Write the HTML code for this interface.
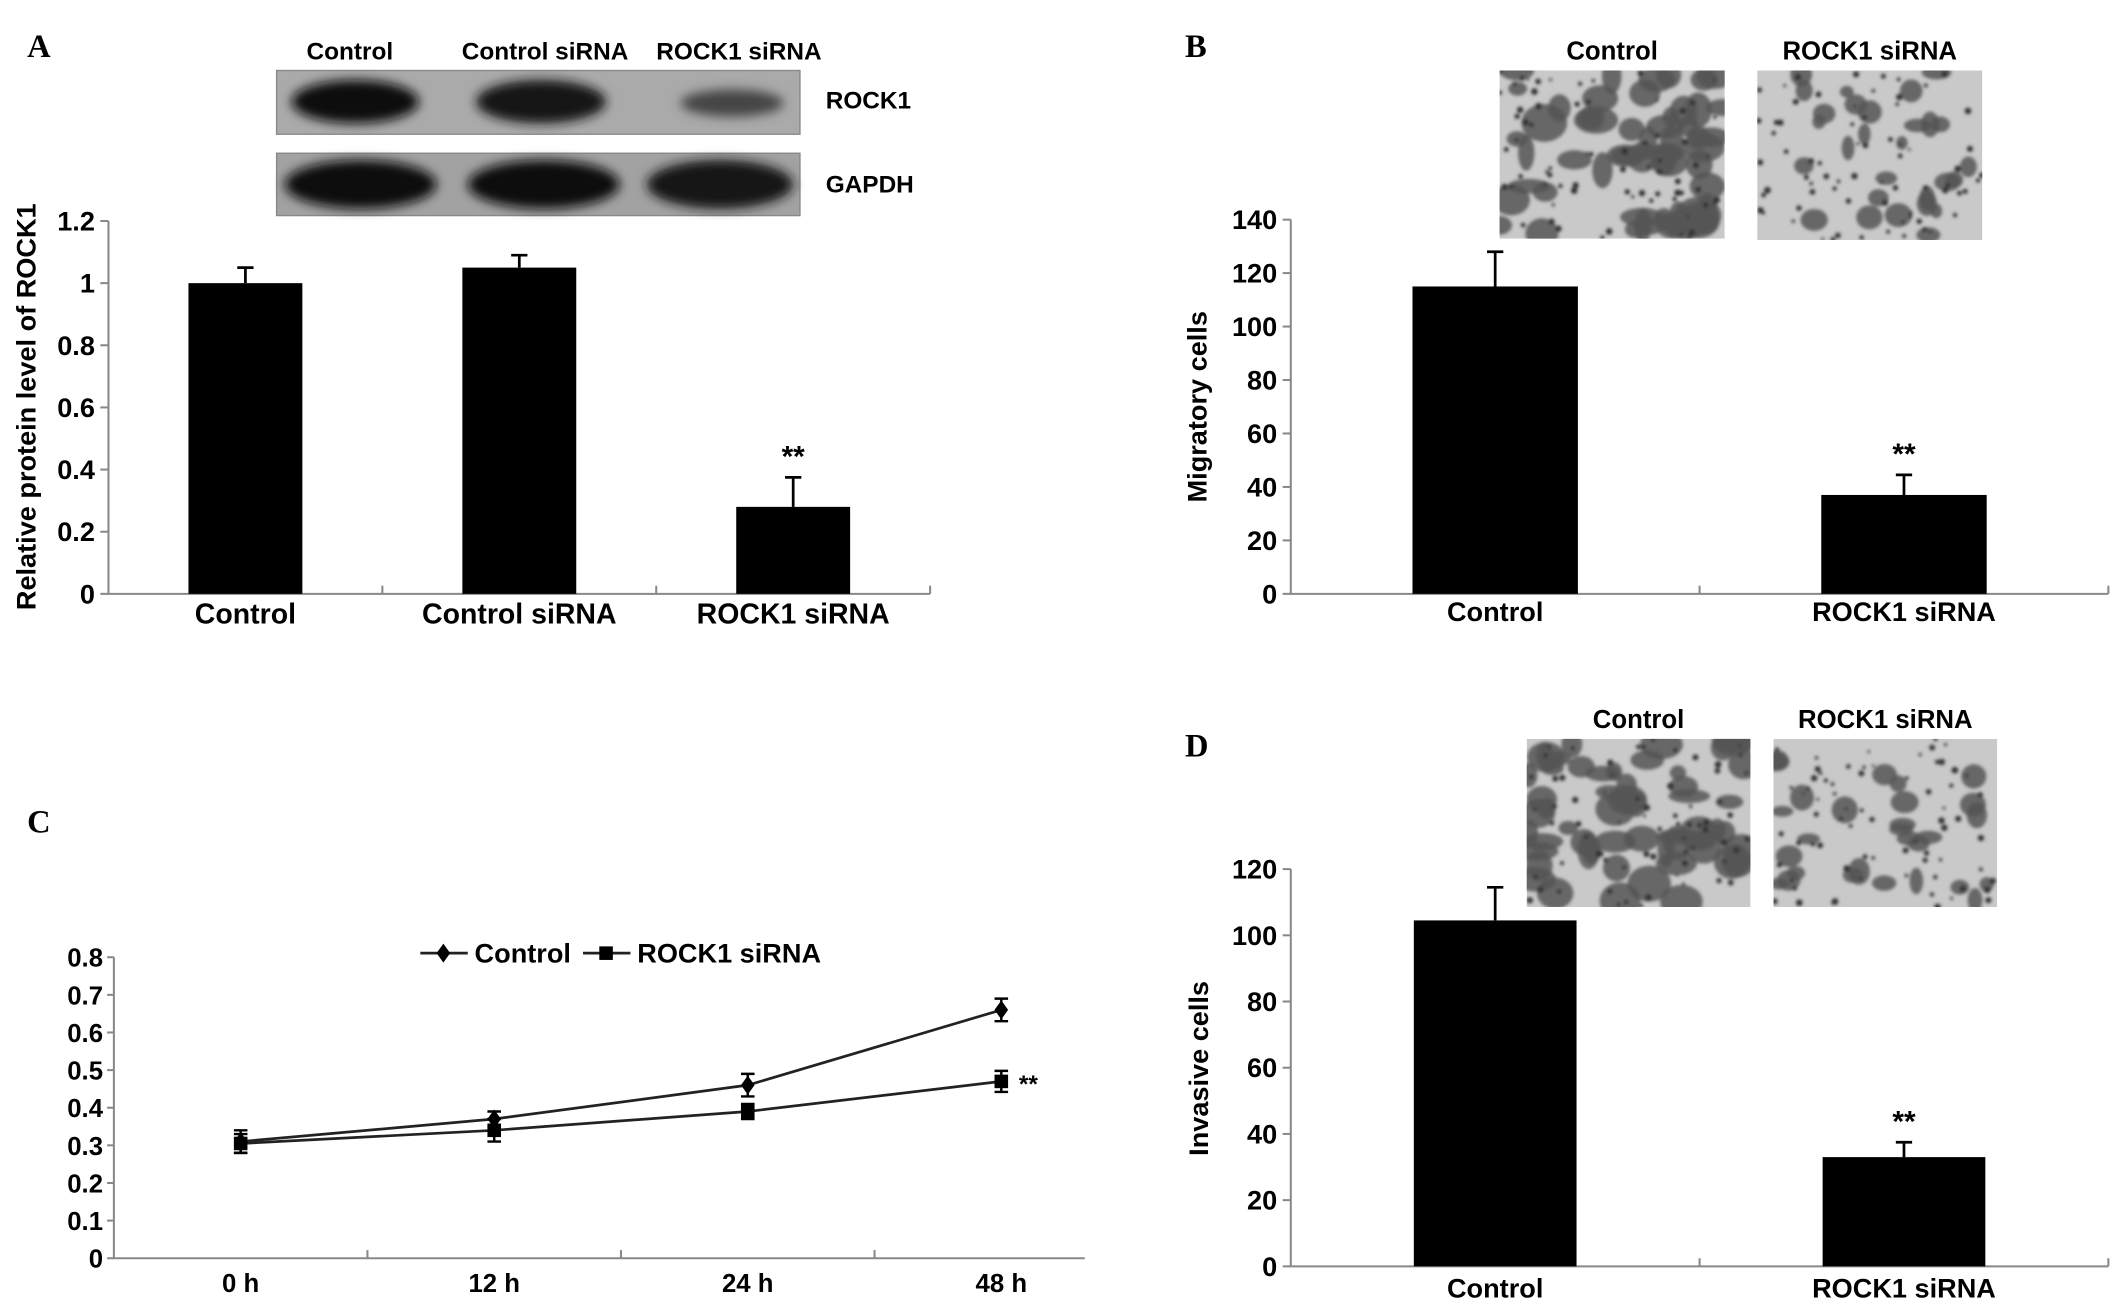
<!DOCTYPE html>
<html><head><meta charset="utf-8">
<style>
html,body{margin:0;padding:0;background:#fff;}
svg{display:block;}
text{font-family:"Liberation Sans",sans-serif;font-weight:bold;fill:#000;}
.n{font-family:"Liberation Sans Narrow","Liberation Sans",sans-serif;}
.lab{font-family:"Liberation Serif",serif;font-size:24px;}
</style></head>
<body>
<svg id="fig" width="2126" height="1313" viewBox="0 0 1568 968.4" preserveAspectRatio="none" xmlns="http://www.w3.org/2000/svg">
<defs>
<filter id="blur" x="-20%" y="-50%" width="140%" height="200%"><feGaussianBlur stdDeviation="4"/></filter>
<filter id="blur2"><feGaussianBlur stdDeviation="1.2"/></filter>
</defs>
<g id="root"></g>
</svg>
<script>
// ---- Panel A data ----
const aCats = ["Control","Control siRNA","ROCK1 siRNA"];
const aVals = [1.0, 1.05, 0.28];
const aErr = [0.05, 0.04, 0.095];
const aTicks = ["0","0.2","0.4","0.6","0.8","1","1.2"];
// ---- Panel B data ----
const bCats = ["Control","ROCK1 siRNA"];
const bVals = [115, 37];
const bErr = [13, 7.5];
const bTicks = ["0","20","40","60","80","100","120","140"];
// ---- Panel C data ----
const cCats = ["0 h","12 h","24 h","48 h"];
const cControl = [0.31, 0.37, 0.46, 0.66];
const cControlErr = [0.03, 0.02, 0.03, 0.03];
const cSi = [0.305, 0.34, 0.39, 0.47];
const cSiErr = [0.025, 0.03, 0.02, 0.028];
const cTicks = ["0","0.1","0.2","0.3","0.4","0.5","0.6","0.7","0.8"];
// ---- Panel D data ----
const dCats = ["Control","ROCK1 siRNA"];
const dVals = [104.5, 33];
const dErr = [10, 4.5];
const dTicks = ["0","20","40","60","80","100","120"];

const NS="http://www.w3.org/2000/svg";
const root=document.getElementById('root');
function el(tag,attrs,parent){const e=document.createElementNS(NS,tag);for(const k in attrs)e.setAttribute(k,attrs[k]);(parent||root).appendChild(e);return e;}
function txt(s,x,y,size,anchor,cls,parent){const t=el('text',{x:x,y:y,'font-size':size,'text-anchor':anchor||'middle'},parent);if(cls)t.setAttribute('class',cls);t.textContent=s;return t;}

function barPanel(o){
  const g=el('g',{});
  
  
  const ymax=Number(o.ticks[o.ticks.length-1]);
  const y=v=>o.y0-(v/ymax)*(o.y0-o.y1);
  const bw=(o.x1-o.x0)/o.cats.length;
  const xc=i=>o.x0+bw*(i+0.5);
  const ax=el('path',{d:`M${o.x0},${o.y1} V${o.y0} H${o.x1}`,stroke:'#888',fill:'none','stroke-width':1.5},g);
  
  
  o.ticks.forEach((t,i)=>{
    const v=Number(t);const yy=y(v);
    el('line',{x1:o.x0-6,x2:o.x0,y1:yy,y2:yy,stroke:'#888','stroke-width':1.5},g);
    const tl=txt(t,o.x0-10,yy+7,o.tickSize,'end',o.cls,g);
    
    
  });
  for(let i=1;i<=o.cats.length;i++){const xx=o.x0+bw*i;el('line',{x1:xx,x2:xx,y1:o.y0,y2:o.y0-6,stroke:'#888','stroke-width':1.5},g);}
  o.cats.forEach((c,i)=>{
    const w=o.barW;
    const r=el('rect',{x:xc(i)-w/2,y:y(o.vals[i]),width:w,height:o.y0-y(o.vals[i]),fill:'#000'},g);
    
    
    const ye=y(o.vals[i]+o.err[i]);
    const eb=el('path',{d:`M${xc(i)},${y(o.vals[i])} V${ye} M${xc(i)-6},${ye} H${xc(i)+6}`,stroke:'#000','stroke-width':2,fill:'none'},g);
    
    
    const xl=txt(c,xc(i),o.y0+o.labOff,o.catSize,'middle',o.cls,g);
    
    
    if(o.star[i]){const s=txt('**',xc(i),ye-8,22,'middle','',g);}
  });
  const yt=txt(o.ytitle,0,0,20,'middle','',g);
  yt.setAttribute('transform',`translate(${o.tx},${o.ty}) rotate(-90)`);
  
  
}

barPanel({name:'panel-a-chart',cats:aCats,vals:aVals,err:aErr,ticks:aTicks,x0:80,x1:686,y0:438,y1:163,barW:84,tickSize:20,catSize:21,labOff:22,cls:'n',star:[0,0,1],ytitle:'Relative protein level of ROCK1',tx:26,ty:300});
barPanel({name:'panel-b-chart',cats:bCats,vals:bVals,err:bErr,ticks:bTicks,x0:952,x1:1555,y0:438,y1:162,barW:122,tickSize:20,catSize:20,labOff:20,cls:'',star:[0,1],ytitle:'Migratory cells',tx:890,ty:300});
barPanel({name:'panel-d-chart',cats:dCats,vals:dVals,err:dErr,ticks:dTicks,x0:952,x1:1555,y0:934,y1:641,barW:120,tickSize:20,catSize:20,labOff:23,cls:'',star:[0,1],ytitle:'Invasive cells',tx:891,ty:788});

// Panel C line chart
(function(){
  const g=el('g',{});
  
  
  const x0=84,x1=800,y0=928,y1=706;
  const ymax=0.8;
  const y=v=>y0-(v/ymax)*(y0-y1);
  const step=187;
  const xc=i=>x0+step*(i+0.5);
  const ax=el('path',{d:`M${x0},${y1} V${y0} H${x1}`,stroke:'#888',fill:'none','stroke-width':1.5},g);
  
  
  cTicks.forEach(t=>{const yy=y(Number(t));el('line',{x1:x0-5,x2:x0,y1:yy,y2:yy,stroke:'#888','stroke-width':1.5},g);
    const tl=txt(t,x0-8,yy+7,19,'end','n',g);});
  for(let i=1;i<cCats.length;i++){const xx=x0+step*i;el('line',{x1:xx,x2:xx,y1:y0,y2:y0-6,stroke:'#888','stroke-width':1.5},g);}
  cCats.forEach((c,i)=>{const t=txt(c,xc(i),y0+25,19,'middle','n',g);});
  function series(vals,errs,marker,name){
    const sg=el('g',{},g);
    
    
    el('polyline',{points:vals.map((v,i)=>xc(i)+','+y(v)).join(' '),fill:'none',stroke:'#222','stroke-width':2},sg);
    vals.forEach((v,i)=>{
      const yt=y(v+errs[i]),yb=y(v-errs[i]),x=xc(i);
      el('path',{d:`M${x},${yt}V${yb}M${x-5},${yt}H${x+5}M${x-5},${yb}H${x+5}`,stroke:'#000','stroke-width':1.8,fill:'none'},sg);
      if(marker==='d')el('path',{d:`M${x},${y(v)-7}L${x+5},${y(v)}L${x},${y(v)+7}L${x-5},${y(v)}Z`,fill:'#000'},sg);
      else el('rect',{x:x-5,y:y(v)-5,width:10,height:10,fill:'#000'},sg);
    });
  }
  series(cControl,cControlErr,'d','series-control');
  series(cSi,cSiErr,'s','series-rock1-sirna');
  const st=txt('**',xc(3)+20,y(cSi[3])+8,18,'middle','',g);
  const lg=el('g',{},g);
  
  
  el('line',{x1:310,x2:345,y1:703,y2:703,stroke:'#222','stroke-width':2},lg);
  el('path',{d:'M327,696L332,703L327,710L322,703Z',fill:'#000'},lg);
  txt('Control',350,710,20,'start','',lg);
  el('line',{x1:430,x2:465,y1:703,y2:703,stroke:'#222','stroke-width':2},lg);
  el('rect',{x:442,y:698,width:10,height:10,fill:'#000'},lg);
  txt('ROCK1 siRNA',470,710,20,'start','',lg);
})();

// panel letters
[['A',20,42],['B',874,42],['C',20,614],['D',874,558]].forEach(([l,x,y])=>{const t=txt(l,x,y,24,'start','lab');});

// western blot
(function(){
  const g=el('g',{});
  
  
  [['Control',258],['Control siRNA',402],['ROCK1 siRNA',545]].forEach(([s,x])=>{const t=txt(s,x,44,18,'middle','n',g);});
  el('rect',{x:204,y:52,width:386,height:47,fill:'#aaa',stroke:'#888'},g);
  el('rect',{x:204,y:113,width:386,height:46,fill:'#a2a2a2',stroke:'#888'},g);
  const r1=[[262,75,47,16,'#111'],[399,75,48,16,'#151515'],[540,76,38,10,'#444']];
  r1.forEach(b=>el('ellipse',{cx:b[0],cy:b[1],rx:b[2],ry:b[3],fill:b[4],filter:'url(#blur)'},g));
  const r2=[[266,136,56,18,'#111'],[401,136,56,18,'#111'],[531,136,54,18,'#161616']];
  r2.forEach(b=>el('ellipse',{cx:b[0],cy:b[1],rx:b[2],ry:b[3],fill:b[4],filter:'url(#blur)'},g));
  const t1=txt('ROCK1',609,80,18,'start','n',g);
  const t2=txt('GAPDH',609,142,18,'start','n',g);
})();

// micrographs
let seed=7;function rnd(){seed=(seed*16807)%2147483647;return seed/2147483647;}
let clipN=0;
function micro(x,y,w,h,dense,name,label){
  const id='clip'+(clipN++);
  const cp=el('clipPath',{id:id});
  el('rect',{x:x,y:y,width:w,height:h},cp);
  const g=el('g',{'clip-path':'url(#'+id+')'});
  
  
  el('rect',{x:x,y:y,width:w,height:h,fill:'#c9c9c9'},g);
  const cg=el('g',{filter:'url(#blur2)'},g);
  const nb=dense?55:28;
  for(let i=0;i<nb;i++){el('ellipse',{cx:x+rnd()*w,cy:y+rnd()*h,rx:(dense?6:4)+rnd()*(dense?11:7),ry:(dense?5:4)+rnd()*(dense?9:6),fill:'#555',opacity:0.85},cg);}
  for(let i=0;i<70;i++){el('circle',{cx:x+rnd()*w,cy:y+rnd()*h,r:1+rnd()*1.5,fill:'#333'},cg);}
  const t=txt(label,x+w/2,y-8,19,'middle','',null);
  
  
}
micro(1106,52,166,124,true,'migration-image-control','Control');
micro(1296,52,166,125,false,'migration-image-rock1-sirna','ROCK1 siRNA');
micro(1126,545,165,124,true,'invasion-image-control','Control');
micro(1308,545,165,124,false,'invasion-image-rock1-sirna','ROCK1 siRNA');
</script>
</body></html>
